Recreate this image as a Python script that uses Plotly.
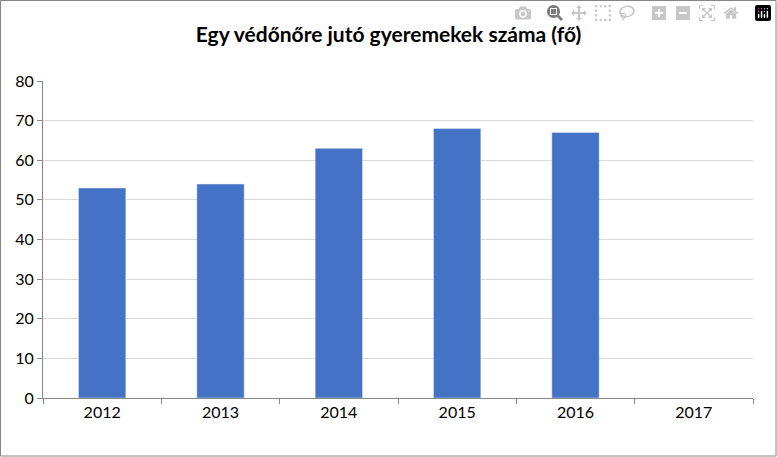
import plotly.graph_objects as go

years = ["2012", "2013", "2014", "2015", "2016", "2017"]
values = [53, 54, 63, 68, 67, None]
yticks = [0, 10, 20, 30, 40, 50, 60, 70, 80]

fig = go.Figure(go.Bar(x=years, y=values, marker_color="#4472C4", width=0.4))
fig.update_layout(
    width=777, height=457,
    margin=dict(l=43, r=24, t=81, b=59),
    paper_bgcolor="white", plot_bgcolor="white",
    font=dict(family="Lato, Calibri, sans-serif", size=16, color="black"),
    title=dict(text="<b>Egy védőnőre jutó gyeremekek száma (fő)</b>", x=0.5, xanchor="center",
               y=0.925, yanchor="middle", font=dict(size=21)),
    showlegend=False,
    xaxis=dict(type="category", showline=True, linecolor="#868686", ticks="outside",
               tickson="boundaries", ticklen=5, tickcolor="#868686", showgrid=False),
    yaxis=dict(range=[0, 80], tickvals=yticks, showline=True, linecolor="#868686",
               ticks="outside", ticklen=5, tickcolor="#868686",
               gridcolor="#D9D9D9", zeroline=False),
    shapes=[dict(type="rect", xref="paper", yref="paper", x0=-42.5/710, x1=1+23/710,
                 y0=-58/317, y1=1+80.5/317, line=dict(color="#868686", width=1))],
)
fig.write_html("out.html")
with open("out.html", encoding="utf-8") as f:
    html = f.read()
html = html.replace("<body>", '<body style="margin:0">', 1)
with open("out.html", "w", encoding="utf-8") as f:
    f.write(html)
